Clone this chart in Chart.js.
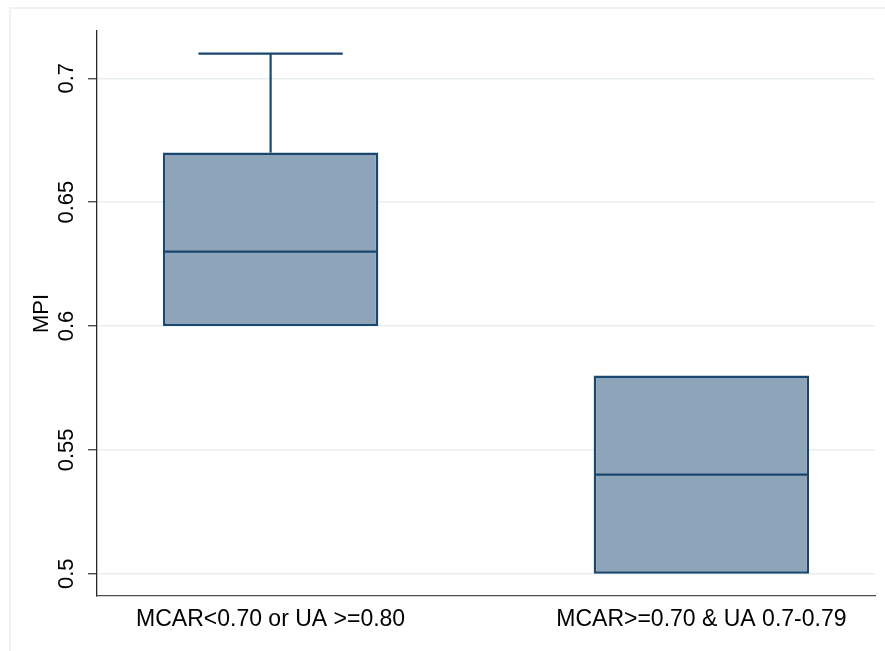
<!DOCTYPE html>
<html>
<head>
<meta charset="utf-8">
<script src="https://cdn.jsdelivr.net/npm/chart.js@4"></script>
<style>
  html, body { margin: 0; padding: 0; background: #ffffff; }
  #wrap { width: 885px; height: 651px; position: relative; }
</style>
</head>
<body>
<div id="wrap"><canvas id="chart" width="885" height="651"></canvas></div>
<script>
// Box plot of MPI by group
const categories = ['MCAR<0.70 or UA >=0.80', 'MCAR>=0.70 & UA 0.7-0.79'];
const lowerWhisker = [0.60, 0.50];
const q1 = [0.60, 0.50];
const median = [0.63, 0.54];
const q3 = [0.67, 0.58];
const upperWhisker = [0.71, 0.58];
const yTicks = [0.5, 0.55, 0.6, 0.65, 0.7];
const yTickLabels = ['0.5', '0.55', '0.6', '0.65', '0.7'];
const yTitle = 'MPI';

const NAVY = 'rgb(26,71,111)';
const BOX_FILL = 'rgb(142,164,185)';
const GRID = 'rgb(232,239,241)';
const FONT = '"Liberation Sans", Arial, Helvetica, sans-serif';

// white page with a light frame around the graph region
const backdrop = {
  id: 'backdrop',
  beforeDraw(chart) {
    const ctx = chart.ctx;
    ctx.save();
    ctx.fillStyle = '#ffffff';
    ctx.fillRect(0, 0, chart.width, chart.height);
    ctx.strokeStyle = GRID;
    ctx.lineWidth = 1.5;
    ctx.strokeRect(10, 8, chart.width + 20, chart.height + 20);
    ctx.restore();
  }
};

// medians, whiskers and caps drawn on top of the floating boxes
const boxParts = {
  id: 'boxParts',
  afterDatasetsDraw(chart) {
    const meta = chart.getDatasetMeta(0);
    const y = chart.scales.y;
    const ctx = chart.ctx;
    ctx.save();
    ctx.strokeStyle = NAVY;
    ctx.lineWidth = 2.2;
    ctx.lineCap = 'butt';
    const seg = (x1, y1, x2, y2) => {
      ctx.beginPath(); ctx.moveTo(x1, y1); ctx.lineTo(x2, y2); ctx.stroke();
    };
    meta.data.forEach((bar, i) => {
      const half = bar.width / 2;
      const cap = half * 0.67;
      const ym = y.getPixelForValue(median[i]);
      seg(bar.x - half + 1, ym, bar.x + half - 1, ym);
      if (upperWhisker[i] > q3[i]) {
        const yt = y.getPixelForValue(q3[i]);
        const yw = y.getPixelForValue(upperWhisker[i]);
        seg(bar.x, yt, bar.x, yw);
        seg(bar.x - cap, yw, bar.x + cap, yw);
      }
      if (lowerWhisker[i] < q1[i]) {
        const yb = y.getPixelForValue(q1[i]);
        const yw = y.getPixelForValue(lowerWhisker[i]);
        seg(bar.x, yb, bar.x, yw);
        seg(bar.x - cap, yw, bar.x + cap, yw);
      }
    });
    ctx.restore();
  }
};

new Chart(document.getElementById('chart'), {
  type: 'bar',
  data: {
    datasets: [{
      label: yTitle,
      data: categories.map((c, i) => ({ x: i + 1, y: [q1[i], q3[i]] })),
      backgroundColor: BOX_FILL,
      borderColor: NAVY,
      borderWidth: 2.5,
      borderSkipped: false,
      categoryPercentage: 0.5,
      barPercentage: 1.0
    }]
  },
  options: {
    responsive: false,
    animation: false,
    devicePixelRatio: 1,
    layout: { padding: { left: 20, top: 31, right: 10, bottom: 0 } },
    plugins: {
      legend: { display: false },
      tooltip: { enabled: false }
    },
    scales: {
      x: {
        type: 'linear',
        position: 'bottom',
        offset: false,
        min: 0.597,
        max: 2.403,
        afterBuildTicks(scale) { scale.ticks = categories.map((c, i) => ({ value: i + 1 })); },
        afterFit(scale) { scale.height = 55; },
        grid: { display: false, drawTicks: false, offset: false },
        border: { display: true, color: 'rgb(80,80,80)', width: 1.3 },
        ticks: {
          padding: 10,
          color: '#000000',
          font: { family: FONT, size: 23 },
          maxRotation: 0,
          minRotation: 0,
          autoSkip: false,
          callback: (v, i) => categories[i]
        }
      },
      y: {
        type: 'linear',
        position: 'left',
        min: 0.491,
        max: 0.7191,
        afterBuildTicks(scale) { scale.ticks = yTicks.map(v => ({ value: v })); },
        afterFit(scale) { scale.width = 77; },
        grid: {
          color: GRID,
          lineWidth: 1.5,
          tickColor: 'rgb(50,50,50)',
          tickLength: 9,
          tickWidth: 1.2,
          drawOnChartArea: true
        },
        border: { display: true, color: 'rgb(40,40,40)', width: 1.3 },
        ticks: {
          padding: 0,
          color: '#000000',
          font: { family: FONT, size: 22 },
          minRotation: 90,
          maxRotation: 90,
          crossAlign: 'center',
          autoSkip: false,
          callback: (v, i) => yTickLabels[i]
        },
        title: {
          display: true,
          text: yTitle,
          color: '#000000',
          font: { family: FONT, size: 22 },
          padding: { top: 9, bottom: 0 }
        }
      }
    }
  },
  plugins: [backdrop, boxParts]
});
</script>
</body>
</html>
